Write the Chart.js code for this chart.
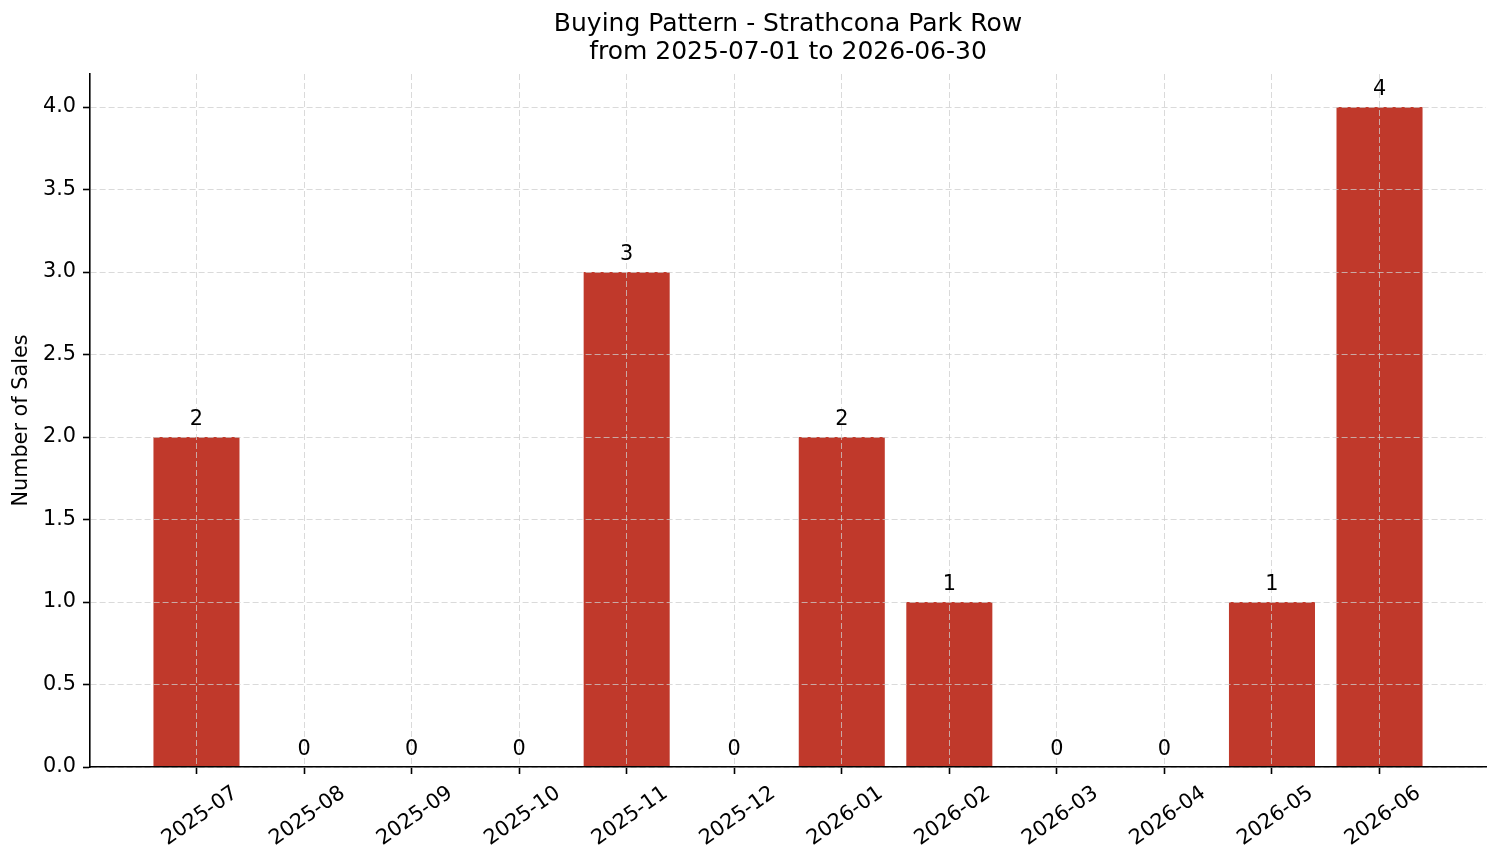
<!DOCTYPE html>
<html>
<head>
<meta charset="utf-8">
<script src="https://cdn.jsdelivr.net/npm/chart.js@4"></script>
<style>
body { margin: 0; background: #fff; }
#wrap { width: 1501px; height: 863px; }
</style>
</head>
<body>
<div id="wrap"><canvas id="chart" width="1501" height="863"></canvas></div>
<script>
const months = ['2025-07', '2025-08', '2025-09', '2025-10', '2025-11', '2025-12',
    '2026-01', '2026-02', '2026-03', '2026-04', '2026-05', '2026-06'];
const sales = [2, 0, 0, 0, 3, 0, 2, 1, 0, 0, 1, 4];
const yTicks = [0, 0.5, 1, 1.5, 2, 2.5, 3, 3.5, 4];
const titleLines = ['Buying Pattern - Strathcona Park Row', 'from 2025-07-01 to 2026-06-30'];
const yTitle = 'Number of Sales';

const FONT = 'DejaVu Sans';
const gridColor = 'rgba(205,205,205,0.75)';

// value labels above each bar, drawn last so they sit over the grid
const barLabels = {
    id: 'barLabels',
    afterDraw(chart) {
        const { ctx } = chart;
        const meta = chart.getDatasetMeta(0);
        ctx.save();
        ctx.font = `20.8px "${FONT}"`;
        ctx.fillStyle = '#000';
        ctx.textAlign = 'center';
        ctx.textBaseline = 'alphabetic';
        meta.data.forEach((bar, i) => {
            ctx.fillText(String(sales[i]), bar.x, bar.y - 12);
        });
        ctx.restore();
    },
};

const gridOpts = {
    offset: false,
    color: gridColor,
    lineWidth: 1,
    tickColor: '#000',
    tickWidth: 1.6,
    tickLength: 7,
    z: 1,
};
const borderOpts = { display: true, color: '#000', width: 1.6, dash: [6, 3], z: 2 };

new Chart(document.getElementById('chart'), {
    type: 'bar',
    data: {
        datasets: [
            {
                data: sales.map((v, i) => ({ x: i, y: v })),
                backgroundColor: '#c0392b',
                borderWidth: 0,
                barPercentage: 0.8,
                categoryPercentage: 1.0,
            },
        ],
    },
    plugins: [barLabels],
    options: {
        responsive: false,
        animation: false,
        layout: { padding: { left: 0, right: 15, top: 0, bottom: 0 } },
        scales: {
            x: {
                type: 'linear',
                offset: false,
                min: -0.99,
                max: 11.99,
                afterBuildTicks: (scale) => {
                    scale.ticks = months.map((_, i) => ({ value: i }));
                },
                afterFit: (scale) => {
                    scale.height = 96;
                },
                ticks: {
                    autoSkip: false,
                    minRotation: 35,
                    maxRotation: 35,
                    labelOffset: 39,
                    padding: 7,
                    color: '#000',
                    font: { family: FONT, size: 20.8 },
                    callback: (v) => months[v],
                },
                grid: gridOpts,
                border: borderOpts,
            },
            y: {
                min: 0,
                max: 4.2,
                afterBuildTicks: (scale) => {
                    scale.ticks = yTicks.map((v) => ({ value: v }));
                },
                afterFit: (scale) => {
                    scale.width = 90;
                },
                ticks: {
                    padding: 7,
                    color: '#000',
                    font: { family: FONT, size: 20.8 },
                    callback: (v) => v.toFixed(1),
                },
                grid: gridOpts,
                border: borderOpts,
                title: {
                    display: true,
                    text: yTitle,
                    color: '#000',
                    font: { family: FONT, size: 20.8, lineHeight: 1.2 },
                    padding: { top: 9, bottom: 0 },
                },
            },
        },
        plugins: {
            legend: { display: false },
            tooltip: { enabled: false },
            title: {
                display: true,
                fullSize: false,
                text: titleLines,
                color: '#000',
                font: { family: FONT, size: 25, weight: 'normal', lineHeight: 1.1 },
                padding: { top: 11, bottom: 8 },
            },
        },
    },
});
</script>
</body>
</html>
